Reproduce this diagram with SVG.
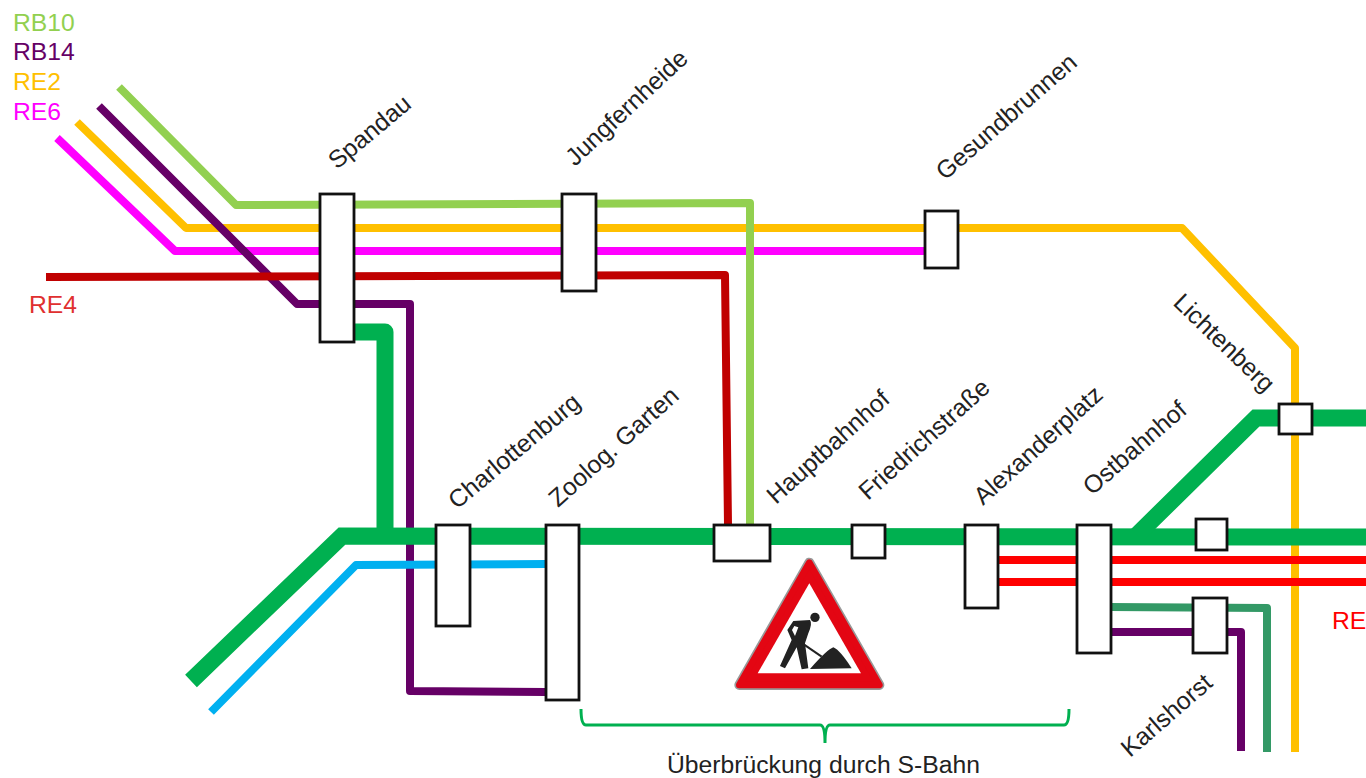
<svg xmlns="http://www.w3.org/2000/svg" width="1366" height="778" viewBox="0 0 1366 778">
<style>
text{font-family:"Liberation Sans",Arial,sans-serif;font-size:24.7px;fill:#222}
.l{fill:none;stroke-width:8;stroke-linejoin:round}
.t{fill:none;stroke:#00B050;stroke-width:17;stroke-linejoin:miter}
.s{fill:#fff;stroke:#111;stroke-width:2.8}
</style>
<rect width="1366" height="778" fill="#fff"/>
<g id="connectors">
<path id="re2" class="l" stroke="#FFC000" d="M77 122L186 228H1182L1295 348V752"/>
<path id="re6" class="l" stroke="#FF00FF" d="M57 138L175 251H925"/>
<path id="rb14" class="l" stroke="#660066" d="M99 106L297 304H410V691L546 692"/>
<path id="re4" class="l" stroke="#C00000" d="M46 277L725 275L728 525"/>
<path id="rb10" class="l" stroke="#92D050" d="M119 87L236 205L750 203V525"/>
<path id="blue" class="l" stroke="#00B0F0" d="M211 712L356 565L546 564"/>
<path id="red1" class="l" stroke="#FF0000" d="M998 560H1366"/>
<path id="red2" class="l" stroke="#FF0000" d="M998 582H1366"/>
<path id="teal" class="l" stroke="#339966" d="M1110 607L1267 608V752"/>
<path id="rb14b" class="l" stroke="#660066" d="M1110 632H1241V751"/>
<path id="green1" class="t" style="stroke-linejoin:round" d="M353 332H385V536"/>
<path id="green2" class="t" d="M191 681L342 536L1366 537"/>
<path id="green3" class="t" d="M1137 535L1256 418H1366"/>
</g>
<g id="spandau"><rect class="s" x="320" y="194" width="34" height="148"/><text transform="translate(337 170) rotate(-40)">Spandau</text></g>
<g id="jungfernheide"><rect class="s" x="562" y="194" width="34" height="97"/><text transform="translate(575 167) rotate(-43)">Jungfernheide</text></g>
<g id="gesundbrunnen"><rect class="s" x="925" y="211" width="33" height="57"/><text transform="translate(945 181) rotate(-41)">Gesundbrunnen</text></g>
<g id="charlottenburg"><rect class="s" x="436" y="525" width="34" height="101"/><text transform="translate(457 510) rotate(-40)">Charlottenburg</text></g>
<g id="zoolog"><rect class="s" x="546" y="525" width="33" height="175"/><text transform="translate(558 508) rotate(-42)">Zoolog. Garten</text></g>
<g id="hauptbahnhof"><rect class="s" x="714" y="525" width="56" height="36"/><text transform="translate(776 505) rotate(-42)">Hauptbahnhof</text></g>
<g id="friedrichstrasse"><rect class="s" x="852" y="525" width="33" height="33"/><text transform="translate(868 501) rotate(-42)">Friedrichstraße</text></g>
<g id="alexanderplatz"><rect class="s" x="965" y="525" width="33" height="83"/><text transform="translate(983 506) rotate(-42)">Alexanderplatz</text></g>
<g id="ostbahnhof"><rect class="s" x="1077" y="525" width="34" height="128"/><text transform="translate(1092 496) rotate(-41)">Ostbahnhof</text></g>
<g id="lichtenberg"><rect class="s" x="1279" y="404" width="33" height="30"/><text transform="translate(1172 304) rotate(44)">Lichtenberg</text></g>
<g id="stop-unnamed"><rect class="s" x="1196" y="519" width="31" height="31"/></g>
<g id="karlshorst"><rect class="s" x="1193" y="598" width="34" height="55"/><text transform="translate(1130 758) rotate(-41)">Karlshorst</text></g>
<g id="line-labels">
<text x="13" y="31" style="fill:#92D050">RB10</text>
<text x="13" y="60" style="fill:#660066">RB14</text>
<text x="13" y="90" style="fill:#FFC000">RE2</text>
<text x="13" y="120" style="fill:#FF00FF">RE6</text>
<text x="29" y="313" style="fill:#E03030">RE4</text>
<text x="1332" y="629" style="fill:#FF0000">RE</text>
</g>
<g id="sign" transform="translate(700 540) scale(.3333)">
<path d="M328 68L538 435H118Z" fill="#E30613" stroke="#999" stroke-width="30" stroke-linejoin="round"/>
<path d="M328 68L538 435H118Z" fill="#E30613" stroke="#E30613" stroke-width="20" stroke-linejoin="round"/>
<path d="M328 130L483 400H173Z" fill="#fff"/>
<g fill="#222">
<circle cx="345" cy="232" r="14"/>
<path fill-rule="evenodd" d="M280 243L330 240Q338 250 325 280L315 310L325 385L305 388L290 322L255 385L240 378L275 300L262 270ZM283 258L276 270L285 288L295 262Z"/>
<path d="M330 387Q380 330 400 322Q420 330 455 385Z"/>
</g>
<path d="M285 295L365 350" stroke="#222" stroke-width="6" fill="none"/>
</g>
<g id="bracket">
<path d="M581 709Q581 725 586 725H820Q825 725 825 743Q825 725 830 725H1064Q1069 725 1069 709" fill="none" stroke="#00B050" stroke-width="3"/>
<text x="667" y="773">Überbrückung durch S-Bahn</text>
</g>
</svg>
